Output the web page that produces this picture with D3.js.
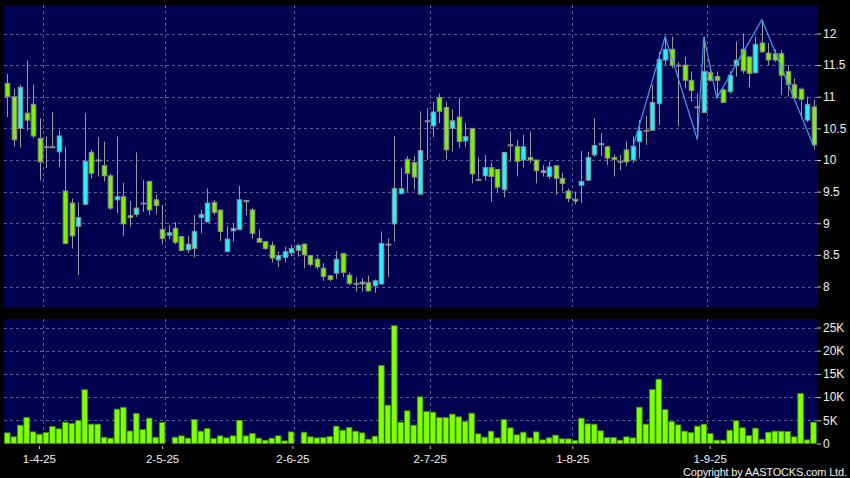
<!DOCTYPE html>
<html>
<head>
<meta charset="utf-8">
<script src="https://cdn.jsdelivr.net/npm/d3@7"></script>
<style>
  body { margin: 0; background: #000; }
  svg { display: block; }
</style>
</head>
<body>
<div id="chart-area"></div>
<script>
// daily candles, 25-3-25 .. 23-9-25
var opens = [11.21, 11.00, 10.50, 10.74, 10.88, 10.34, 10.21, 10.21, 10.13, 9.51,
             9.32, 8.95, 9.30, 10.12, 10.00, 9.91, 9.75, 9.37, 9.42, 9.12,
             9.14, 9.32, 9.66, 9.37, 8.90, 8.81, 8.92, 8.79, 8.58, 8.60,
             9.09, 9.02, 9.33, 9.21, 8.55, 8.88, 8.90, 9.36, 9.21, 8.76,
             8.71, 8.65, 8.42, 8.46, 8.53, 8.57, 8.67, 8.49, 8.43, 8.29,
             8.17, 8.21, 8.52, 8.18, 8.05, 8.04, 8.06, 8.01, 8.04, 8.67,
             8.99, 9.47, 10.01, 9.96, 9.46, 10.62, 10.54, 10.99, 10.83, 10.50,
             10.68, 10.30, 10.50, 9.69, 9.75, 9.88, 9.85, 9.53, 10.24, 10.21,
             10.00, 10.04, 10.00, 9.80, 9.74, 9.91, 9.71, 9.51, 9.38, 9.60,
             9.68, 10.08, 10.24, 10.21, 10.04, 9.98, 10.16, 10.00, 10.29, 10.47,
             10.47, 10.89, 11.58, 11.75, 11.50, 11.50, 11.26, 10.84, 10.75, 11.38,
             11.32, 11.11, 11.08, 11.49, 11.75, 11.63, 11.38, 11.85, 11.69, 11.68,
             11.68, 11.40, 11.19, 11.12, 10.63, 10.84];
var highs = [11.36, 11.12, 11.19, 11.57, 11.19, 10.66, 10.37, 10.76, 10.47, 10.21,
             9.39, 9.33, 10.74, 10.16, 10.36, 10.29, 9.79, 10.37, 9.64, 9.35,
             10.12, 9.68, 9.66, 9.45, 9.29, 8.97, 9.02, 8.80, 8.80, 9.13,
             9.21, 9.55, 9.37, 9.21, 8.95, 8.99, 9.59, 9.36, 9.24, 8.90,
             8.71, 8.71, 8.55, 8.63, 8.66, 8.67, 8.68, 8.49, 8.47, 8.37,
             8.18, 8.56, 8.52, 8.22, 8.14, 8.13, 8.17, 8.11, 8.87, 8.76,
             10.38, 9.88, 10.06, 10.06, 10.77, 10.82, 10.92, 11.05, 10.92, 10.80,
             10.98, 10.59, 10.50, 10.04, 10.08, 9.96, 9.85, 10.12, 10.45, 10.32,
             10.40, 10.45, 10.00, 9.92, 9.98, 9.91, 9.80, 9.55, 9.50, 10.14,
             10.13, 10.66, 10.42, 10.21, 10.09, 10.08, 10.29, 10.37, 10.63, 10.70,
             11.19, 11.71, 11.95, 11.95, 11.55, 11.63, 11.40, 11.05, 11.95, 11.50,
             11.40, 11.13, 11.40, 11.87, 12.00, 11.63, 11.95, 12.22, 11.85, 11.75,
             11.74, 11.50, 11.29, 11.15, 11.00, 10.95];
var lows = [10.68, 10.21, 10.20, 10.46, 10.34, 9.68, 9.87, 10.21, 9.89, 8.68,
            8.60, 8.18, 9.28, 9.71, 9.74, 9.66, 9.21, 9.16, 8.80, 8.95,
            9.10, 9.18, 9.13, 9.14, 8.67, 8.75, 8.67, 8.56, 8.53, 8.46,
            8.84, 9.02, 9.13, 8.72, 8.55, 8.71, 8.90, 9.13, 8.76, 8.70,
            8.58, 8.38, 8.31, 8.38, 8.48, 8.47, 8.29, 8.31, 8.27, 8.09,
            8.08, 8.12, 8.15, 8.02, 7.92, 7.92, 7.92, 7.90, 8.03, 8.15,
            8.71, 9.45, 9.50, 9.53, 9.46, 10.00, 10.36, 10.58, 10.01, 10.13,
            10.19, 10.21, 9.63, 9.69, 9.68, 9.34, 9.50, 9.41, 9.97, 9.74,
            9.88, 9.95, 9.63, 9.74, 9.70, 9.45, 9.51, 9.33, 9.30, 9.32,
            9.68, 10.05, 10.06, 9.92, 9.74, 9.84, 9.90, 9.95, 10.03, 10.24,
            10.47, 10.55, 11.50, 11.45, 10.53, 11.13, 10.92, 10.32, 10.75, 11.24,
            10.98, 10.90, 11.05, 11.32, 11.37, 11.15, 11.37, 11.70, 11.50, 11.55,
            11.03, 11.00, 10.95, 10.66, 10.60, 10.17];
var closes = [11.00, 10.32, 11.15, 10.63, 10.38, 9.97, 10.21, 10.21, 10.38, 8.68,
              8.80, 9.09, 9.98, 9.79, 10.00, 9.75, 9.24, 9.42, 8.99, 9.09,
              9.24, 9.32, 9.21, 9.28, 8.76, 8.85, 8.70, 8.57, 8.67, 8.87,
              9.14, 9.32, 9.17, 8.87, 8.75, 8.92, 9.37, 9.34, 8.84, 8.70,
              8.60, 8.45, 8.49, 8.55, 8.60, 8.65, 8.50, 8.35, 8.31, 8.16,
              8.11, 8.43, 8.22, 8.05, 8.05, 8.07, 7.93, 8.09, 8.68, 8.67,
              9.55, 9.55, 9.79, 9.73, 10.15, 10.62, 10.76, 10.77, 10.16, 10.62,
              10.29, 10.37, 9.78, 9.69, 9.88, 9.74, 9.57, 10.12, 10.24, 9.98,
              10.21, 10.00, 9.83, 9.83, 9.89, 9.71, 9.63, 9.39, 9.35, 9.66,
              10.04, 10.23, 10.26, 10.03, 10.01, 9.98, 9.97, 10.22, 10.46, 10.47,
              10.91, 11.59, 11.75, 11.50, 11.50, 11.26, 11.10, 10.84, 11.40, 11.26,
              11.26, 10.91, 11.34, 11.58, 11.41, 11.37, 11.83, 11.71, 11.58, 11.58,
              11.34, 11.19, 10.98, 10.96, 10.88, 10.24];
// volume in thousands
var volumes = [2.3, 1.44, 3.95, 5.6, 2.5, 2.0, 2.37, 3.66, 3.16, 4.6,
               4.3, 5.0, 11.6, 4.17, 4.17, 1.36, 1.15, 7.4, 7.8, 2.7,
               6.5, 3.0, 5.46, 1.36, 4.5, 0, 1.36, 1.65, 1.15, 5.2,
               2.66, 3.23, 1.08, 1.65, 1.22, 1.65, 5.0, 1.65, 2.16, 1.15,
               0.72, 1.15, 1.65, 0.57, 2.5, 0, 2.44, 1.44, 1.22, 1.29,
               1.5, 3.74, 2.87, 3.45, 2.66, 2.3, 0.93, 1.58, 16.8, 8.26,
               25.4, 4.6, 7.04, 3.95, 10.06, 6.9, 6.75, 5.6, 5.6, 6.32,
               5.75, 4.74, 6.54, 2.08, 1.36, 2.66, 1.22, 5.17, 3.38, 1.87,
               2.44, 1.22, 2.5, 0.79, 1.22, 1.8, 1.0, 1.0, 0.65, 5.46,
               4.24, 4.17, 2.73, 1.29, 1.29, 0.72, 1.44, 1.22, 7.83, 4.17,
               11.64, 13.87, 7.33, 4.74, 4.02, 2.66, 2.37, 3.74, 4.17, 2.16,
               0.72, 0.72, 2.87, 4.89, 3.38, 1.72, 3.3, 0.93, 2.44, 2.66,
               2.66, 2.59, 1.44, 10.78, 0.79, 4.6];

var tickLabels = ["1-4-25", "2-5-25", "2-6-25", "2-7-25", "1-8-25", "1-9-25"];
var tickAt = [4.9, 24, 44.2, 65.5, 87.6, 108.9];   // label positions (candle index)
var gridAt = [5.5, 24.5, 44.5, 65.5, 87.5, 108.5]; // vertical grid lines
var priceTicks = [8, 8.5, 9, 9.5, 10, 10.5, 11, 11.5, 12];
var volTicks = [0, 5, 10, 15, 20, 25];
// zigzag trend line: [candle index, price]
var zigIdx = [97, 102, 107, 108, 110, 117, 125];
var zigVal = [10.2, 11.95, 10.32, 11.95, 10.98, 12.22, 10.22];

var svgWidth = 850, svgHeight = 478;
var panel = { left: 4, right: 817, top: 5, bottom: 307 };
var volPanel = { top: 319, bottom: 444 };

var svg = d3.select("#chart-area")
            .append("svg")
            .attr("width", svgWidth)
            .attr("height", svgHeight)
            .style("background", "#000");

var x = d3.scaleLinear().domain([0, opens.length - 1]).range([7.3, 813.5]);
var y = d3.scaleLinear().domain([8, 12]).range([286.5, 33.5]);
var yVol = d3.scaleLinear().domain([0, 25]).range([443.5, 327.5]);

var candles = opens.map(function(o, i) {
    return { i: i, o: o, h: highs[i], l: lows[i], c: closes[i], v: volumes[i] };
});

var gridColor = "#5c5c9c";
var fontFamily = "'Liberation Sans', Arial, sans-serif";

// panel backgrounds
svg.append("rect")
   .attr("x", panel.left).attr("y", panel.top)
   .attr("width", panel.right - panel.left).attr("height", panel.bottom - panel.top)
   .attr("fill", "#00004e");
svg.append("rect")
   .attr("x", panel.left).attr("y", volPanel.top)
   .attr("width", panel.right - panel.left).attr("height", volPanel.bottom - volPanel.top)
   .attr("fill", "#00004e");

// clips
var defs = svg.append("defs");
defs.append("clipPath").attr("id", "clipMain").append("rect")
    .attr("x", panel.left).attr("y", panel.top)
    .attr("width", panel.right - panel.left).attr("height", panel.bottom - panel.top);
defs.append("clipPath").attr("id", "clipVol").append("rect")
    .attr("x", panel.left).attr("y", volPanel.top)
    .attr("width", panel.right - panel.left).attr("height", volPanel.bottom - volPanel.top);

// grid lines
var mainG = svg.append("g").attr("clip-path", "url(#clipMain)");
var volG = svg.append("g").attr("clip-path", "url(#clipVol)");

mainG.selectAll(".hgrid").data(priceTicks).enter().append("line")
     .attr("x1", panel.left).attr("x2", panel.right)
     .attr("y1", (d) => Math.round(y(d)) + 0.5).attr("y2", (d) => Math.round(y(d)) + 0.5)
     .attr("stroke", gridColor).attr("stroke-dasharray", "3,3");
mainG.selectAll(".vgrid").data(gridAt).enter().append("line")
     .attr("x1", (d) => Math.round(x(d)) + 0.5).attr("x2", (d) => Math.round(x(d)) + 0.5)
     .attr("y1", panel.top).attr("y2", panel.bottom)
     .attr("stroke", gridColor).attr("stroke-dasharray", "3,3");

volG.selectAll(".hgrid").data(volTicks.slice(1)).enter().append("line")
    .attr("x1", panel.left).attr("x2", panel.right)
    .attr("y1", (d) => Math.round(yVol(d)) + 0.5).attr("y2", (d) => Math.round(yVol(d)) + 0.5)
    .attr("stroke", gridColor).attr("stroke-dasharray", "3,3");
volG.selectAll(".vgrid").data(gridAt).enter().append("line")
    .attr("x1", (d) => Math.round(x(d)) + 0.5).attr("x2", (d) => Math.round(x(d)) + 0.5)
    .attr("y1", volPanel.top).attr("y2", volPanel.bottom)
    .attr("stroke", gridColor).attr("stroke-dasharray", "3,3");

// candles
var bodyW = 4.6;
mainG.selectAll(".wick").data(candles).enter().append("line")
     .attr("x1", (d) => Math.round(x(d.i)) + 0.5).attr("x2", (d) => Math.round(x(d.i)) + 0.5)
     .attr("y1", (d) => y(d.h)).attr("y2", (d) => y(d.l))
     .attr("stroke", "#9a9a9a").attr("stroke-width", 1);

mainG.selectAll(".body").data(candles).enter().append("rect")
     .attr("x", (d) => Math.round(x(d.i)) + 0.5 - bodyW / 2)
     .attr("width", bodyW)
     .attr("y", (d) => y(Math.max(d.o, d.c)))
     .attr("height", (d) => Math.max(1, Math.abs(y(d.o) - y(d.c))))
     .attr("fill", (d) => d.c > d.o ? "#22f4ff" : (d.c < d.o ? "#7ff000" : "#8a8a8a"))
     .attr("stroke", "#8a8a8a").attr("stroke-width", 1);

// zigzag line
var zig = zigIdx.map((d, k) => [x(d), y(zigVal[k])]);
mainG.append("path")
     .attr("d", d3.line()(zig))
     .attr("fill", "none").attr("stroke", "#3f9cf0").attr("stroke-width", 1.2);

// volume bars
volG.selectAll(".vol").data(candles.filter((d) => d.v > 0)).enter().append("rect")
    .attr("x", (d) => x(d.i) - 2.8)
    .attr("width", 5.6)
    .attr("y", (d) => yVol(d.v))
    .attr("height", (d) => yVol(0) - yVol(d.v))
    .attr("fill", "#80ff00")
    .attr("stroke", "#3a8a00").attr("stroke-width", 0.8);

// right axes
var yAxisCall = d3.axisRight(y).tickValues(priceTicks).tickSize(4).tickPadding(2)
                  .tickFormat((d) => d3.format("")(d));
var yAxisGroup = svg.append("g")
                    .attr("transform", "translate(" + panel.right + ",0)")
                    .call(yAxisCall);

var volAxisCall = d3.axisRight(yVol).tickValues(volTicks).tickSize(4).tickPadding(2)
                    .tickFormat((d) => d === 0 ? "0" : d + "K");
var volAxisGroup = svg.append("g")
                      .attr("transform", "translate(" + panel.right + ",0)")
                      .call(volAxisCall);

// bottom axis
var xAxisCall = d3.axisBottom(x).tickValues(tickAt).tickSize(3).tickPadding(6)
                  .tickFormat((d, k) => tickLabels[k]);
var xAxisGroup = svg.append("g")
                    .attr("transform", "translate(0," + (volPanel.bottom + 2) + ")")
                    .call(xAxisCall);

[yAxisGroup, volAxisGroup, xAxisGroup].forEach(function(g) {
    g.select(".domain").remove();
    g.selectAll("line").attr("stroke", "#c8c8c8");
    g.selectAll("text")
     .attr("fill", "#f0f0f0")
     .attr("font-family", fontFamily)
     .attr("font-size", "12px");
});
xAxisGroup.selectAll("text").attr("font-size", "11.5px");

svg.append("text")
   .attr("x", 847).attr("y", 476)
   .attr("text-anchor", "end")
   .attr("fill", "#f0f0f0")
   .attr("font-family", fontFamily)
   .attr("font-size", "11px")
   .attr("textLength", 164)
   .attr("lengthAdjust", "spacing")
   .text("Copyright by AASTOCKS.com Ltd.");
</script>
</body>
</html>
